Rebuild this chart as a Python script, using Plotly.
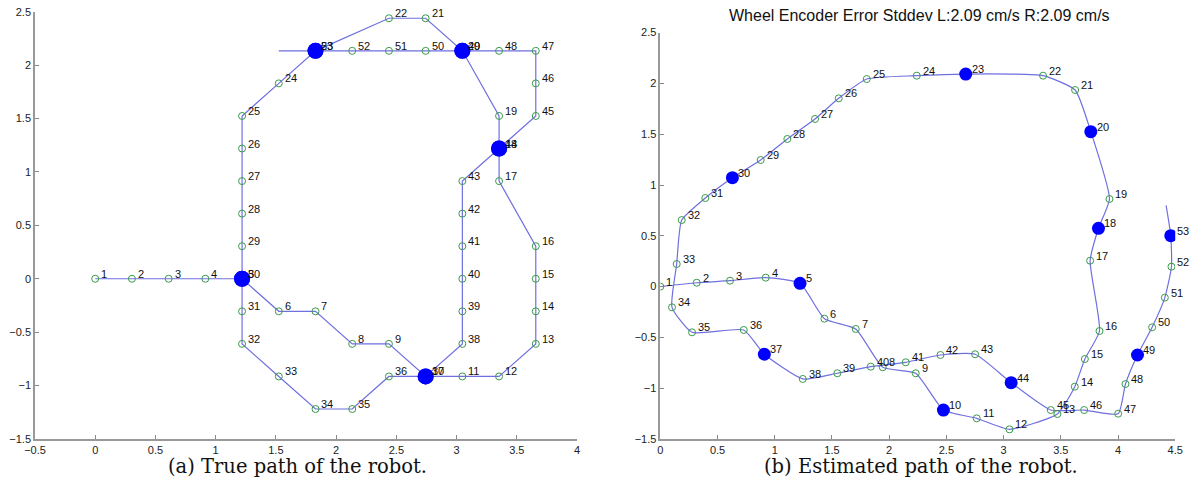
import plotly.graph_objects as go

# ---- (a) true path ----
true_x = [0, 0.3048, 0.6096, 0.9144, 1.2192, 1.524, 1.8288, 2.1336, 2.4384, 2.7432,
          3.048, 3.3528, 3.6576, 3.6576, 3.6576, 3.6576, 3.3528, 3.3528, 3.3528, 3.048,
          2.7432, 2.4384, 1.8288, 1.524, 1.2192, 1.2192, 1.2192, 1.2192, 1.2192, 1.2192,
          1.2192, 1.2192, 1.524, 1.8288, 2.1336, 2.4384, 2.7432, 3.048, 3.048, 3.048,
          3.048, 3.048, 3.048, 3.3528, 3.6576, 3.6576, 3.6576, 3.3528, 3.048, 2.7432,
          2.4384, 2.1336, 1.8288, 1.524]
true_y = [0, 0, 0, 0, 0, -0.3048, -0.3048, -0.6096, -0.6096, -0.9144,
          -0.9144, -0.9144, -0.6096, -0.3048, 0, 0.3048, 0.9144, 1.2192, 1.524, 2.1336,
          2.4384, 2.4384, 2.1336, 1.8288, 1.524, 1.2192, 0.9144, 0.6096, 0.3048, 0,
          -0.3048, -0.6096, -0.9144, -1.2192, -1.2192, -0.9144, -0.9144, -0.6096, -0.3048, 0,
          0.3048, 0.6096, 0.9144, 1.2192, 1.524, 1.8288, 2.1336, 2.1336, 2.1336, 2.1336,
          2.1336, 2.1336, 2.1336, 2.1336]

# ---- (b) estimated path ----
est_x = [0, 0.318, 0.609, 0.921, 1.221, 1.434, 1.708, 1.944, 2.232, 2.474,
         2.765, 3.051, 3.47, 3.622, 3.71, 3.838, 3.756, 3.829, 3.925, 3.762,
         3.625, 3.345, 2.669, 2.241, 1.804, 1.559, 1.352, 1.11, 0.877, 0.63,
         0.393, 0.187, 0.143, 0.102, 0.277, 0.729, 0.909, 1.245, 1.547, 1.839,
         2.145, 2.448, 2.751, 3.066, 3.412, 3.704, 4.001, 4.065, 4.17, 4.298,
         4.409, 4.467, 4.461, 4.42]
est_y = [0, 0.038, 0.058, 0.088, 0.032, -0.316, -0.417, -0.794, -0.853, -1.215,
         -1.297, -1.405, -1.254, -0.985, -0.713, -0.437, 0.255, 0.574, 0.862, 1.525,
         1.935, 2.076, 2.092, 2.076, 2.043, 1.853, 1.65, 1.453, 1.246, 1.072,
         0.872, 0.655, 0.222, -0.204, -0.45, -0.427, -0.666, -0.909, -0.853, -0.788,
         -0.745, -0.673, -0.666, -0.946, -1.215, -1.215, -1.251, -0.959, -0.673, -0.401,
         -0.109, 0.196, 0.501, 0.80]

labels = [str(i) for i in range(1, 54)]
landmarks = [5, 10, 18, 20, 23, 30, 37, 44, 49, 53]

title_b = "Wheel Encoder Error Stddev L:2.09 cm/s R:2.09 cm/s"
caption_a = "(a) True path of the robot."
caption_b = "(b) Estimated path of the robot."

x_ticks_a = [-0.5, 0, 0.5, 1, 1.5, 2, 2.5, 3, 3.5, 4]
x_ticks_b = [0, 0.5, 1, 1.5, 2, 2.5, 3, 3.5, 4, 4.5]
y_ticks = [-1.5, -1, -0.5, 0, 0.5, 1, 1.5, 2, 2.5]


def fmt(v):
    s = ("%g" % v)
    return s.replace("-", "\u2212")


LINE_COL = "#6f6fe0"
GREEN = "#3a9a4a"
BLUE = "#0000ff"
FONT = "Liberation Sans, Arial, sans-serif"
SERIF = "DejaVu Serif, Liberation Serif, serif"

fig = go.Figure()
annotations = []

for px, py, xa, ya, bsize, shape in [(true_x, true_y, "x", "y", 16, "linear"),
                                     (est_x, est_y, "x2", "y2", 13, "spline")]:
    fig.add_trace(go.Scatter(x=px, y=py, mode="lines", xaxis=xa, yaxis=ya,
                             line=dict(color=LINE_COL, width=1.2, shape=shape, smoothing=0.5),
                             hoverinfo="skip", showlegend=False))
    fig.add_trace(go.Scatter(x=px[:53], y=py[:53], mode="markers", xaxis=xa, yaxis=ya,
                             marker=dict(symbol="circle-open", color=GREEN, size=7,
                                         line=dict(width=1, color=GREEN)),
                             hoverinfo="skip", showlegend=False))
    fig.add_trace(go.Scatter(x=[px[i - 1] for i in landmarks], y=[py[i - 1] for i in landmarks],
                             mode="markers", xaxis=xa, yaxis=ya,
                             marker=dict(color=BLUE, size=bsize, line=dict(width=0)),
                             hoverinfo="skip", showlegend=False))
    for lx, ly, t in zip(px[:53], py[:53], labels):
        annotations.append(dict(x=lx, y=ly, xref=xa, yref=ya, text=t, showarrow=False,
                                xanchor="left", yanchor="middle", xshift=4, yshift=5,
                                font=dict(family=FONT, size=11, color="#111")))

axis_common = dict(showgrid=False, zeroline=False, showline=True, linecolor="#999999",
                   linewidth=1.5, ticks="inside", ticklen=4, tickcolor="#888888",
                   tickfont=dict(family=FONT, size=11, color="#222"), mirror=False,
                   automargin=False)

annotations += [
    dict(text=title_b, x=919 / 1190, y=1 - 16 / 483, xref="paper", yref="paper",
         showarrow=False, xanchor="center", yanchor="middle",
         font=dict(family=FONT, size=16, color="#111")),
    dict(text=caption_a, x=297 / 1190, y=1 - 466 / 483, xref="paper", yref="paper",
         showarrow=False, xanchor="center", yanchor="middle",
         font=dict(family=SERIF, size=19.5, color="#111")),
    dict(text=caption_b, x=921 / 1190, y=1 - 466 / 483, xref="paper", yref="paper",
         showarrow=False, xanchor="center", yanchor="middle",
         font=dict(family=SERIF, size=19.5, color="#111")),
]

fig.update_layout(
    width=1190, height=483,
    margin=dict(l=0, r=0, t=0, b=0),
    paper_bgcolor="white", plot_bgcolor="white",
    xaxis=dict(domain=[0.0294, 0.4849], range=[-0.5, 4], anchor="y",
               tickvals=x_ticks_a, ticktext=[fmt(v) for v in x_ticks_a], **axis_common),
    yaxis=dict(domain=[0.0911, 0.9758], range=[-1.5, 2.5], anchor="x",
               tickvals=y_ticks, ticktext=[fmt(v) for v in y_ticks], **axis_common),
    xaxis2=dict(domain=[0.5549, 0.9876], range=[0, 4.5], anchor="y2",
                tickvals=x_ticks_b, ticktext=[fmt(v) for v in x_ticks_b], **axis_common),
    yaxis2=dict(domain=[0.0911, 0.9325], range=[-1.5, 2.5], anchor="x2",
                tickvals=y_ticks, ticktext=[fmt(v) for v in y_ticks], **axis_common),
    annotations=annotations,
)

fig.write_html("out.html")
